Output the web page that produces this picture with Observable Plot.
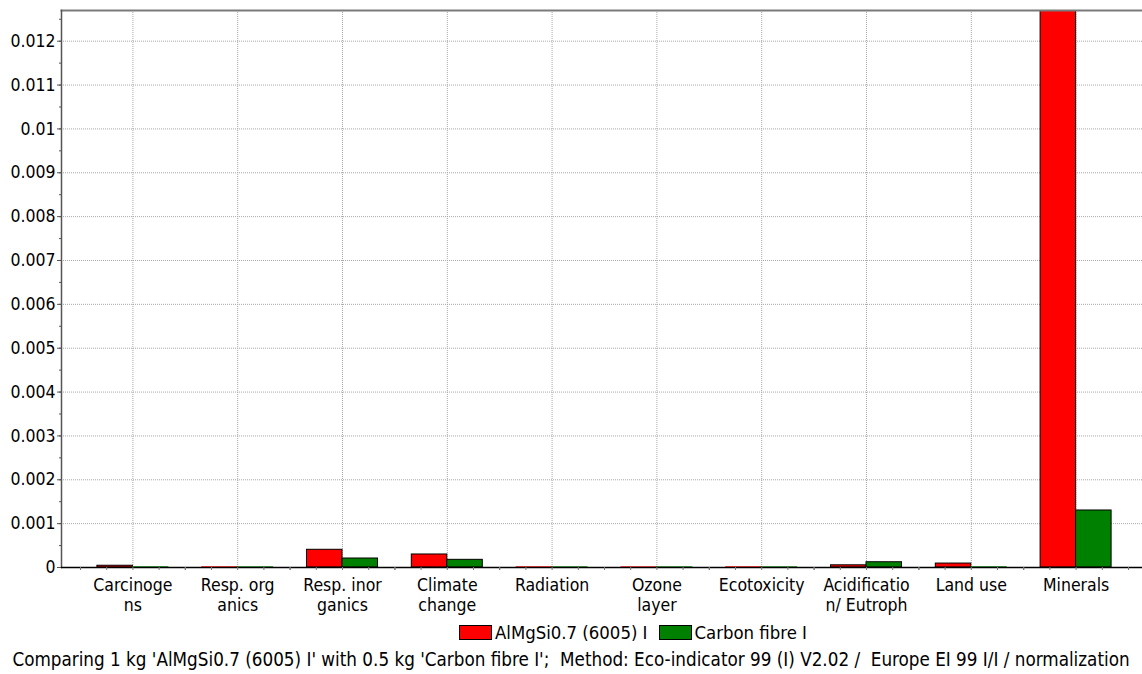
<!DOCTYPE html>
<html>
<head>
<meta charset="utf-8">
<script src="https://cdn.jsdelivr.net/npm/d3@7"></script>
<script src="https://cdn.jsdelivr.net/npm/@observablehq/plot@0.6"></script>
<style>
  html, body { margin: 0; padding: 0; background: #fff; }
  body { width: 1142px; height: 674px; position: relative; overflow: hidden;
         font-family: "DejaVu Sans Condensed", "DejaVu Sans", sans-serif; color: #000; }
  #chart svg { display: block; }
  #legend { position: absolute; left: 459px; top: 621px; height: 22px; display: flex;
            align-items: center; font-size: 18.4px; white-space: nowrap; }
  #legend .item { display: flex; align-items: center; margin-right: 11px; }
  #legend .sw { width: 31px; height: 13px; border: 1px solid #000; margin-right: 3px; }
  #caption { position: absolute; left: 0; width: 1142px; top: 649px; text-align: center;
             font-size: 18.7px; white-space: pre; }
</style>
</head>
<body>
<div id="chart"></div>
<div id="legend"></div>
<div id="caption"></div>
<script>
// Impact categories (Eco-indicator 99 normalization) and their wrapped axis labels
const categories = ["Carcinogens", "Resp. organics", "Resp. inorganics", "Climate change", "Radiation",
  "Ozone layer", "Ecotoxicity", "Acidification/ Eutrophication", "Land use", "Minerals"];
const categoryLabels = ["Carcinoge\nns", "Resp. org\nanics", "Resp. inor\nganics", "Climate\nchange", "Radiation",
  "Ozone\nlayer", "Ecotoxicity", "Acidificatio\nn/ Eutroph", "Land use", "Minerals"];

// Normalized scores per product
const seriesNames = ["AlMgSi0.7 (6005) I", "Carbon fibre I"];
const seriesColors = ["#ff0000", "#008000"];
const aluminiumValues = [0.00004, 0.000004, 0.000404, 0.000297, 0.000004, 0.000003, 0.000004, 0.00005, 0.00009, 0.0142];
const carbonValues = [0.000004, 0.000003, 0.000205, 0.000175, 0.000003, 0.000003, 0.000003, 0.00012, 0.000004, 0.0013];

// Value axis
const yDomain = [0, 0.0127];
const yTicks = [0, 0.001, 0.002, 0.003, 0.004, 0.005, 0.006, 0.007, 0.008, 0.009, 0.01, 0.011, 0.012];
const yTickLabels = ["0", "0.001", "0.002", "0.003", "0.004", "0.005", "0.006", "0.007", "0.008", "0.009", "0.01", "0.011", "0.012"];
const yMinorTicks = d3.range(0, 26).map(i => i * 0.0005);

const caption = "Comparing 1 kg 'AlMgSi0.7 (6005) I' with 0.5 kg 'Carbon fibre I';  Method: Eco-indicator 99 (I) V2.02 /  Europe EI 99 I/I / normalization";

const rows = (values, s) => categories.map((c, i) => ({category: c, series: seriesNames[s], value: values[i]}));
const alRows = rows(aluminiumValues, 0);
const cfRows = rows(carbonValues, 1);

// Bars too thin to show an outline are drawn in their own colour
const outline = color => d => d.value > 0.00003 ? "#000" : color;

const FONT = "17.5px";
const barW = 35.5;
const band = 104.8;

const chart = Plot.plot({
  width: 1142,
  height: 620,
  marginLeft: 61,
  marginRight: 0,
  marginTop: 10,
  marginBottom: 53,
  style: {fontFamily: '"DejaVu Sans Condensed", "DejaVu Sans", sans-serif', fontSize: FONT, color: "#000", background: "#fff"},
  x: {type: "band", domain: categories, padding: 0, round: false, insetLeft: 19, insetRight: 14, axis: null},
  y: {domain: yDomain, axis: null},
  marks: [
    Plot.gridY({ticks: yTicks.slice(1), stroke: "#a8a8a8", strokeOpacity: 1, strokeDasharray: "1,1"}),
    Plot.gridX({stroke: "#a8a8a8", strokeOpacity: 1, strokeDasharray: "1,1"}),
    Plot.barY(alRows, {x: "category", y: "value", fill: seriesColors[0], stroke: outline(seriesColors[0]),
      strokeWidth: 1, insetLeft: band / 2 - barW, insetRight: band / 2, clip: true}),
    Plot.barY(cfRows, {x: "category", y: "value", fill: seriesColors[1], stroke: outline(seriesColors[1]),
      strokeWidth: 1, insetLeft: band / 2, insetRight: band / 2 - barW, clip: true}),
    Plot.frame({anchor: "top", stroke: "#7a7a7a", strokeWidth: 2}),
    Plot.frame({anchor: "left", stroke: "#555", strokeWidth: 1.5}),
    Plot.ruleY([0], {stroke: "#000", strokeWidth: 1.5}),
    // minor ticks along the category axis
    ...[-band / 2, -band / 4, 0, band / 4, band / 2].map(dx =>
      Plot.axisX({tickSize: 3, dx, stroke: "#777", tickFormat: () => "", label: null})),
    Plot.axisX({tickSize: 0, tickPadding: 9, fontSize: FONT, lineHeight: 1.14, label: null,
      tickFormat: d => categoryLabels[categories.indexOf(d)]}),
    Plot.axisY({ticks: yMinorTicks, tickSize: 2, stroke: "#555", tickFormat: () => "", label: null}),
    Plot.axisY({ticks: yTicks, tickSize: 4, tickPadding: 2, stroke: "#555", fontSize: FONT, label: null,
      tickFormat: d => yTickLabels[yTicks.indexOf(d)]})
  ]
});
document.getElementById("chart").append(chart);

// Legend
const legend = document.getElementById("legend");
seriesNames.forEach((name, i) => {
  const item = document.createElement("div");
  item.className = "item";
  const sw = document.createElement("div");
  sw.className = "sw";
  sw.style.background = seriesColors[i];
  const label = document.createElement("span");
  label.textContent = name;
  item.append(sw, label);
  legend.append(item);
});

document.getElementById("caption").textContent = caption;
</script>
</body>
</html>
